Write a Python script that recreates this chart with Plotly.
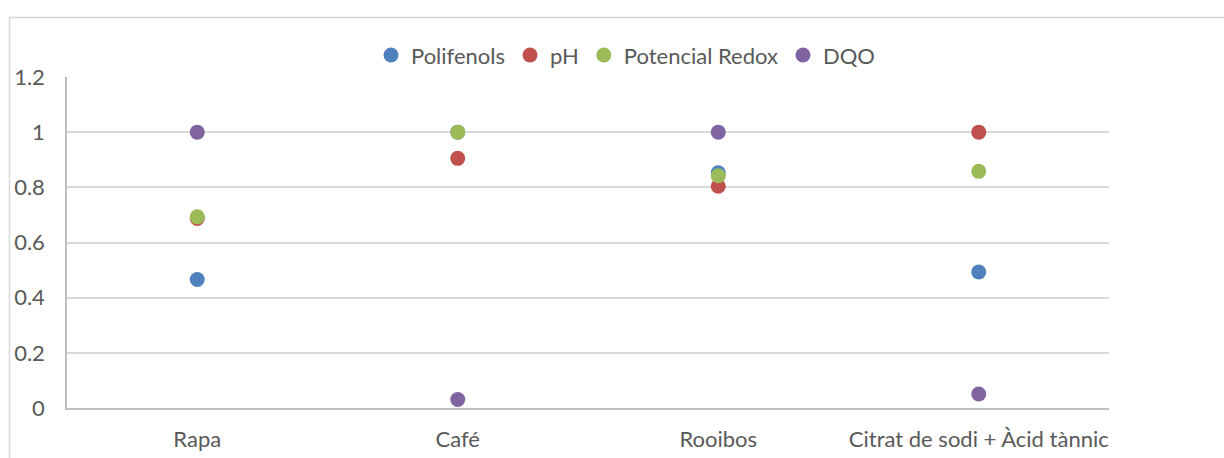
import plotly.graph_objects as go

# Categories and normalised values per indicator
categories = ["Rapa", "Café", "Rooibos", "Citrat de sodi + Àcid tànnic"]
polifenols = [0.466, 1.0, 0.853, 0.493]
ph = [0.687, 0.905, 0.804, 1.0]
potencial_redox = [0.693, 1.0, 0.842, 0.858]
dqo = [1.0, 0.031, 1.0, 0.051]

y_ticks = [0, 0.2, 0.4, 0.6, 0.8, 1, 1.2]
y_tick_text = ["0", "0.2", "0.4", "0.6", "0.8", "1", "1.2"]

series = [
    ("Polifenols", polifenols, "#4F81BD"),
    ("pH", ph, "#C0504D"),
    ("Potencial Redox", potencial_redox, "#9BBB59"),
    ("DQO", dqo, "#8064A2"),
]

font_family = "Lato, 'Open Sans', sans-serif"
text_color = "#595959"

fig = go.Figure()
for name, values, color in series:
    fig.add_trace(go.Scatter(
        x=categories, y=values, name=name, mode="markers",
        marker=dict(size=15, color=color, line=dict(width=0)),
    ))

fig.update_layout(
    width=1224, height=458,
    margin=dict(l=67, r=115, t=77, b=50, autoexpand=False),
    paper_bgcolor="white", plot_bgcolor="white",
    font=dict(family=font_family, size=22, color=text_color),
    showlegend=True,
    legend=dict(
        orientation="h", xanchor="center", yanchor="middle",
        x=0.536, y=1.066, font=dict(size=22, color=text_color),
        itemwidth=30, tracegroupgap=0,
    ),
    xaxis=dict(
        type="category", range=[-0.5, 3.5], automargin=False,
        showgrid=False, showline=True, linecolor="#BFBFBF", linewidth=1.5,
        ticks="", tickfont=dict(size=22, color=text_color),
        ticklabelstandoff=11, zeroline=False,
    ),
    yaxis=dict(
        range=[0, 1.2], tickvals=y_ticks, ticktext=y_tick_text, automargin=False,
        showgrid=True, gridcolor="#D9D9D9", gridwidth=1.5,
        showline=True, linecolor="#BFBFBF", linewidth=1.5,
        ticks="", tickfont=dict(size=22, color=text_color),
        ticklabelstandoff=16, zeroline=False,
    ),
    shapes=[dict(
        type="rect", xref="paper", yref="paper",
        x0=-0.0552, x1=1.3, y0=-0.5, y1=1.1795,
        line=dict(color="#D9D9D9", width=1.5), fillcolor="rgba(0,0,0,0)",
        layer="below",
    )],
)

fig.write_html("out.html")
